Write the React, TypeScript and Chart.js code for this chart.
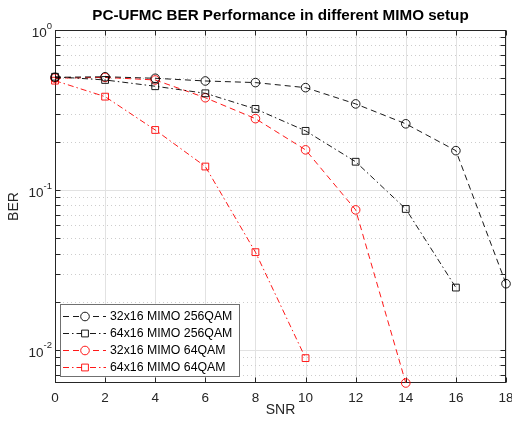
import { useEffect, useRef } from "react";
import { Chart, registerables } from "chart.js";

Chart.register(...registerables);

// ---------- data ----------
const snr = [0, 2, 4, 6, 8, 10, 12, 14, 16, 18];
const ber32x16_256 = [0.506, 0.51, 0.499, 0.48, 0.469, 0.436, 0.345, 0.259, 0.176, 0.0259];
const ber64x16_256 = [0.51, 0.487, 0.445, 0.402, 0.321, 0.234, 0.15, 0.076, 0.0245];
const ber32x16_64 = [0.5, 0.505, 0.487, 0.377, 0.279, 0.178, 0.075, 0.0062];
const ber64x16_64 = [0.482, 0.383, 0.237, 0.14, 0.0408, 0.00887];
const seriesLabels = [
  "32x16 MIMO 256QAM",
  "64x16 MIMO 256QAM",
  "32x16 MIMO 64QAM",
  "64x16 MIMO 64QAM",
];
const xTicks = [0, 2, 4, 6, 8, 10, 12, 14, 16, 18];
const yDecades = [1, 0.1, 0.01];
const yDecadeExp = ["0", "-1", "-2"];
const yMinorBases = [0.1, 0.01, 0.001];
const yMin = 0.0062;
const yMax = 1;
const titleText = "PC-UFMC BER Performance in different MIMO setup";
const xLabel = "SNR";
const yLabel = "BER";

// ---------- styles ----------
const FONT = '"Liberation Sans", Arial, Helvetica, sans-serif';
const AX = "#262626";
const BLACK = "rgba(0,0,0,0.9)";
const RED = "rgba(255,0,0,0.9)";
const DASH = [6, 4];
const DASHDOT = [6, 3, 1.5, 3];

const seriesStyle = [
  { color: BLACK, dash: DASH, point: "circle", radius: 4.3 },
  { color: BLACK, dash: DASHDOT, point: "rect", radius: 4.8 },
  { color: RED, dash: DASH, point: "circle", radius: 4.3 },
  { color: RED, dash: DASHDOT, point: "rect", radius: 4.8 },
];
const seriesValues = [ber32x16_256, ber64x16_256, ber32x16_64, ber64x16_64];

const matlabPlugin = {
  id: "matlabLook",
  beforeDatasetsDraw(chart: any) {
    const { ctx, chartArea: a, scales } = chart;
    const x = scales.x;
    const y = scales.y;
    ctx.save();
    ctx.lineWidth = 1;
    // vertical major grid
    ctx.strokeStyle = "#e2e2e2";
    ctx.setLineDash([]);
    for (const t of xTicks) {
      const px = Math.round(x.getPixelForValue(t)) + 0.5;
      ctx.beginPath();
      ctx.moveTo(px, a.top);
      ctx.lineTo(px, a.bottom);
      ctx.stroke();
    }
    // minor horizontal dotted grid
    ctx.strokeStyle = "#cdcdcd";
    ctx.setLineDash([1, 3]);
    const minorVals: number[] = [];
    for (const b of yMinorBases) {
      for (let m = 2; m <= 9; m++) {
        const v = b * m;
        if (v > yMin && v < yMax && !yDecades.includes(v)) minorVals.push(v);
      }
    }
    for (const v of minorVals) {
      const py = Math.round(y.getPixelForValue(v)) + 0.5;
      ctx.beginPath();
      ctx.moveTo(a.left, py);
      ctx.lineTo(a.right, py);
      ctx.stroke();
    }
    // major horizontal grid
    ctx.setLineDash([]);
    ctx.strokeStyle = "#e2e2e2";
    for (const v of yDecades) {
      const py = Math.round(y.getPixelForValue(v)) + 0.5;
      ctx.beginPath();
      ctx.moveTo(a.left, py);
      ctx.lineTo(a.right, py);
      ctx.stroke();
    }
    // axes box
    ctx.strokeStyle = AX;
    const L = Math.round(a.left) + 0.5;
    const R = Math.round(a.right) - 0.5;
    const T = Math.round(a.top) + 0.5;
    const B = Math.round(a.bottom) - 0.5;
    ctx.strokeRect(L, T, R - L, B - T);
    // ticks (inward)
    const tl = 5;
    ctx.beginPath();
    for (const t of xTicks) {
      const px = Math.round(x.getPixelForValue(t)) + 0.5;
      ctx.moveTo(px, B);
      ctx.lineTo(px, B - tl);
      ctx.moveTo(px, T);
      ctx.lineTo(px, T + tl);
    }
    for (const v of [...yDecades, ...minorVals]) {
      const py = Math.round(y.getPixelForValue(v)) + 0.5;
      ctx.moveTo(L, py);
      ctx.lineTo(L + tl, py);
      ctx.moveTo(R, py);
      ctx.lineTo(R - tl, py);
    }
    ctx.stroke();
    ctx.restore();
  },
  afterDraw(chart: any) {
    const { ctx, chartArea: a, scales } = chart;
    const y = scales.y;
    ctx.save();
    ctx.fillStyle = AX;
    // y tick labels with superscript
    for (let i = 0; i < yDecades.length; i++) {
      const py = y.getPixelForValue(yDecades[i]);
      ctx.font = `9.5px ${FONT}`;
      const ew = ctx.measureText(yDecadeExp[i]).width;
      const right = a.left - 3;
      ctx.textAlign = "right";
      ctx.textBaseline = "middle";
      ctx.fillText(yDecadeExp[i], right, py - 4);
      ctx.font = `13.5px ${FONT}`;
      ctx.fillText("10", right - ew, py + 3);
    }
    // title
    ctx.font = `bold 15.2px ${FONT}`;
    ctx.textAlign = "center";
    ctx.textBaseline = "middle";
    ctx.fillStyle = "#000";
    ctx.fillText(titleText, (a.left + a.right) / 2, 16);
    // axis labels
    ctx.fillStyle = AX;
    ctx.font = `14px ${FONT}`;
    ctx.fillText(xLabel, (a.left + a.right) / 2, 410);
    ctx.save();
    ctx.translate(14, (a.top + a.bottom) / 2);
    ctx.rotate(-Math.PI / 2);
    ctx.fillText(yLabel, 0, 0);
    ctx.restore();
    // legend
    const bx = 60.5, by = 304.5, bw = 179, bh = 72;
    ctx.fillStyle = "#fff";
    ctx.fillRect(bx, by, bw, bh);
    ctx.strokeStyle = "#707070";
    ctx.lineWidth = 1;
    ctx.setLineDash([]);
    ctx.strokeRect(bx, by, bw, bh);
    const rows = [316.5, 333.5, 350.5, 367.5];
    chart.data.datasets.forEach((ds: any, i: number) => {
      const ry = rows[i];
      const st = seriesStyle[i];
      ctx.strokeStyle = st.color;
      ctx.lineWidth = 1;
      ctx.setLineDash(st.dash);
      ctx.beginPath();
      ctx.moveTo(63, ry);
      ctx.lineTo(106, ry);
      ctx.stroke();
      ctx.setLineDash([]);
      // marker
      ctx.fillStyle = "#fff";
      ctx.beginPath();
      if (st.point === "circle") {
        ctx.arc(85, ry, st.radius, 0, Math.PI * 2);
      } else {
        const s = st.radius * Math.SQRT1_2;
        ctx.rect(85 - s, ry - s, 2 * s, 2 * s);
      }
      ctx.fill();
      ctx.stroke();
      ctx.fillStyle = "#000";
      ctx.font = `12.3px ${FONT}`;
      ctx.textAlign = "left";
      ctx.textBaseline = "middle";
      ctx.fillText(ds.label, 110, ry + 0.5);
    });
    ctx.restore();
  },
};

export default function App() {
  const ref = useRef<HTMLCanvasElement | null>(null);
  useEffect(() => {
    if (!ref.current) return;
    const datasets = seriesValues.map((vals, i) => ({
      label: seriesLabels[i],
      data: vals.map((v, j) => ({ x: snr[j], y: v })),
      borderColor: seriesStyle[i].color,
      backgroundColor: "rgba(0,0,0,0)",
      borderWidth: 1,
      borderDash: seriesStyle[i].dash,
      pointStyle: seriesStyle[i].point,
      pointRadius: seriesStyle[i].radius,
      pointBorderWidth: 1,
      pointBorderColor: seriesStyle[i].color,
      pointBackgroundColor: "rgba(0,0,0,0)",
      tension: 0,
      clip: false as any,
      fill: false,
    }));
    const chart = new Chart(ref.current, {
      type: "line",
      data: { datasets },
      options: {
        animation: false,
        responsive: false,
        devicePixelRatio: 1,
        layout: { autoPadding: false, padding: { left: 55, top: 30, right: 6, bottom: 0 } } as any,
        plugins: { legend: { display: false }, title: { display: false }, tooltip: { enabled: false } },
        scales: {
          x: {
            type: "linear",
            min: 0,
            max: 18,
            grid: { display: false, drawTicks: false },
            border: { display: false },
            ticks: {
              stepSize: 2,
              autoSkip: false,
              maxRotation: 0,
              padding: 7,
              color: AX,
              font: { size: 13.5, family: FONT },
            },
            afterFit: (s: any) => {
              s.height = 41;
              s.paddingLeft = 0;
              s.paddingRight = 0;
            },
          },
          y: {
            type: "logarithmic",
            min: yMin,
            max: yMax,
            display: false,
          },
        },
      },
      plugins: [matlabPlugin],
    });
    return () => chart.destroy();
  }, []);
  return (
    <div style={{ position: "absolute", left: 0, top: 0, width: 512, height: 424, background: "#fff" }}>
      <canvas ref={ref} width={512} height={424} style={{ width: 512, height: 424 }} />
    </div>
  );
}
